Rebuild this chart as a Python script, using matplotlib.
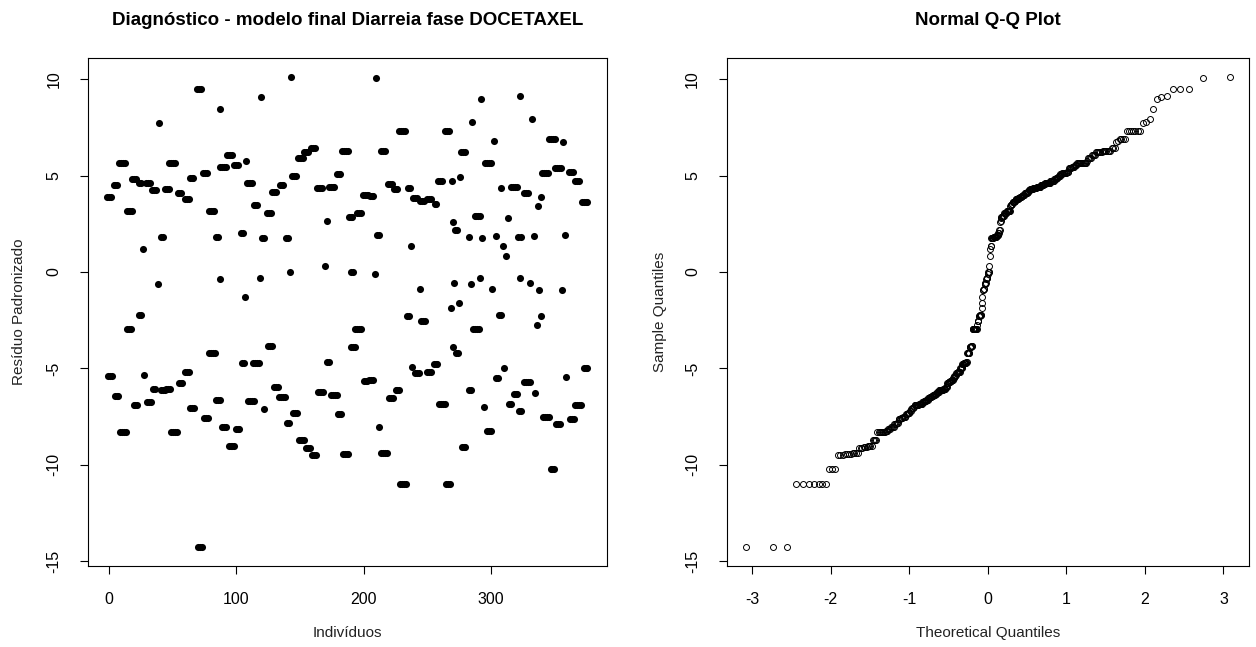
import numpy as np
import matplotlib
matplotlib.use('Agg')
import matplotlib.pyplot as plt
from statistics import NormalDist

plt.rcParams['font.family'] = ['Liberation Sans', 'DejaVu Sans']
plt.rcParams['axes.unicode_minus'] = False

# clusters of repeated residuals: position, value, how many points
cluster_x = [0, 1, 5, 5.8, 10, 10.8, 15.5, 16, 19.4, 20.7, 24.2, 24.6, 26.8, 27.8, 30.7, 31.2,
             35.2, 35.4, 38.3, 39, 41.2, 42.3, 45.4, 46.5, 49.6, 50.9, 55.3, 56.1, 60.9, 61.5,
             64.8, 64.9, 70.6, 71.2, 75.3, 76.4, 80.5, 81, 84.5, 85.6, 87, 87.5, 89.5, 90,
             94.6, 96.2, 99.8, 100.9, 104.6, 105.1, 106.7, 107.2, 110.3, 111.4, 115, 115.6,
             118.5, 119, 120.8, 121.6, 125.5, 126.3, 129.7, 131.3, 135.5, 136, 139.9, 140.6,
             142, 142.8, 145.2, 146, 150.4, 151.2, 154.9, 156.4, 160.1, 161.2, 165.3, 166.1,
             169.6, 171.4, 172.2, 174.8, 176.5, 180.3, 181, 185.3, 185.8, 189.7, 190.5, 191.6,
             195.8, 196.3, 201.5, 201.5, 206.2, 206, 208.9, 209.9, 211.5, 212, 215.4, 216,
             220.4, 221.4, 225.1, 226.6, 230.3, 230.9, 235.1, 236, 237.4, 238.2, 240.3, 242.1,
             244, 246, 246.6, 251.3, 251.3, 256.5, 256.5, 260, 261.3, 265.7, 266.5, 268.6,
             269.7, 270.2, 270.6, 271.3, 272.5, 273.7, 275.1, 275.9, 278.2, 278.5, 282.4,
             283.5, 284.2, 285, 288.1, 289.4, 291.5, 292, 293.3, 294.6, 298, 298.5, 301.1,
             302.4, 303.7, 305, 306.9, 307.6, 309.4, 310.2, 311.5, 313.6, 314.7, 318, 319.4,
             321, 322.6, 323.2, 323.2, 324, 327.6, 328.4, 331, 332.3, 333.6, 334.4, 336, 337,
             338, 339, 339.5, 342.7, 343.2, 347.9, 348.4, 352.6, 353, 356.2, 357, 358.4,
             359.1, 363, 363.5, 367.5, 368.7, 373.6, 374.4]
cluster_res = [3.91, -5.40, 4.50, -6.42, 5.63, -8.30, -2.93, 3.19, 4.81, -6.91, -2.22, 4.60, 1.21,
               -5.32, 4.64, -6.74, 4.26, -6.08, -0.62, 7.72, 1.83, -6.13, 4.30, -6.08, 5.63,
               -8.30, 4.09, -5.75, 3.77, -5.21, 4.86, -7.05, 9.49, -14.27, 5.16, -7.57, 3.19,
               -4.19, 1.83, -6.65, -0.38, 8.45, 5.47, -8.03,
               6.09, -9.04, 5.56, -8.16, 2.01, -4.71, -1.28, 5.75, 4.64, -6.70, 3.50, -4.71,
               -0.29, 9.07, 1.78, -7.12, 3.05, -3.83, 4.17, -5.96, 4.50, -6.48, 1.78, -7.83,
               -0.02, 10.14, 5.00, -7.29, 5.89, -8.73, 6.20, -9.13, 6.42, -9.51, 4.38, -6.22,
               0.33, 2.67, -4.68, 4.42, -6.39, 5.07, -7.34, 6.30, -9.42, 2.84, 0.02, -3.88,
               -2.93, 3.08, 4.02, -5.65, 3.95, -5.58, -0.12, 10.08, 1.94, -8.03, 6.30, -9.39,
               4.55, -6.51, 4.29, -6.13, 7.34, -11.01, -2.29, 4.35, 1.37, -4.95, 3.83, -5.26,
               -0.90, 3.67, -2.53, 3.77, -5.20, 3.53, -4.78, 4.74, -6.86, 7.34, -10.98, -1.89,
               4.74, 2.58, -3.88, -0.55, 2.18, -4.19, -1.63, 4.95, 6.23, -9.10, 1.83,
               -6.13, -0.62, 7.76, -2.94, 2.91, -0.29, 8.97, 1.78, -7.00, 5.63, -8.24, -0.87,
               6.82, 1.88, -5.47, -2.25, 4.35, 1.37, -5.00, 0.85, 2.82, -6.82, 4.42, -6.35,
               1.83, -0.29, 9.14, -7.20, 1.83, 4.09, -5.70, -0.58, 7.93, 1.88, -6.29, -2.75, 3.45,
               -0.94, 3.91, -2.29, 5.16, -7.52, 6.89, -10.23, 5.37, -7.86, -0.94, 6.74, 1.94,
               -5.44, 5.21, -7.63, 4.74, -6.91, 3.65, -5.00]
cluster_n = [3, 3, 3, 3, 4, 4, 3, 4, 3, 3, 2, 2, 1, 1, 3, 3,
             3, 2, 1, 1, 2, 3, 3, 3, 4, 4, 3, 3, 3, 3,
             3, 3, 3, 3, 3, 3, 4, 4, 2, 3, 1, 1, 4, 3,
             4, 4, 3, 3, 2, 2, 1, 1, 4, 4, 3, 4,
             1, 1, 2, 1, 3, 3, 3, 3, 3, 4, 2, 2,
             1, 1, 3, 3, 4, 4, 3, 3, 3, 3, 4, 4,
             1, 1, 2, 4, 4, 3, 3, 4, 4, 3, 2, 3,
             4, 3, 4, 3, 3, 3, 1, 1, 2, 1, 3, 4,
             3, 3, 3, 3, 4, 4, 2, 2, 1, 1, 3, 3,
             1, 3, 3, 3, 3, 2, 3, 3, 4, 3, 3, 1,
             1, 1, 1, 1, 2, 2, 1, 1, 3, 3, 1,
             2, 1, 1, 4, 4, 1, 1, 1, 1, 4, 3, 1,
             1, 1, 2, 2, 1, 1, 1, 1, 1, 2, 4, 3,
             1, 1, 1, 2, 1, 3, 4, 1, 1, 1, 1, 1, 1,
             1, 1, 1, 4, 4, 4, 3, 4, 3, 1, 1, 1,
             1, 3, 3, 3, 4, 4, 3]

xs = np.concatenate([c + 1.5 * (np.arange(k) - (k - 1) / 2) for c, k in zip(cluster_x, cluster_n)])
ys = np.repeat(cluster_res, cluster_n)

# normal Q-Q, R style ppoints
n = len(ys)
sample_q = np.sort(ys)
theo_q = np.array([NormalDist().inv_cdf((i + 0.5) / n) for i in range(n)])


def rlim(v):
    lo, hi = np.min(v), np.max(v)
    d = 0.04 * (hi - lo)
    return lo - d, hi + d


def r_axes(ax):
    for s in ax.spines.values():
        s.set_linewidth(0.8)
        s.set_color('black')
    ax.tick_params(direction='out', length=6, width=0.8, labelsize=11.5, pad=13, colors='black')
    for lab in ax.get_yticklabels():
        lab.set_rotation(90)
        lab.set_va('center')


fig = plt.figure(figsize=(12.56, 6.47), dpi=100)
W, H = 1256, 647

ax1 = fig.add_axes([88 / W, (H - 566) / H, 518.7 / W, 508.3 / H])
ax1.scatter(xs, ys, s=26, color='black', linewidths=0)
ax1.set_xlim(rlim(xs))
ax1.set_ylim(rlim(ys))
ax1.set_xticks([0, 100, 200, 300])
ax1.set_yticks([10, 5, 0, -5, -10, -15])
ax1.set_title('Diagnóstico - modelo final Diarreia fase DOCETAXEL', fontsize=13.5,
              fontweight='bold', y=1.074, va='center', pad=0)
ax1.set_xlabel('Indivíduos', fontsize=11, color='#222222')
ax1.set_ylabel('Resíduo Padronizado', fontsize=11, color='#222222')
r_axes(ax1)

ax2 = fig.add_axes([726.6 / W, (H - 566) / H, 522.4 / W, 508.3 / H])
ax2.plot(theo_q, sample_q, 'o', mfc='none', mec='black', ms=4.3, mew=0.7)
ax2.set_xlim(rlim(theo_q))
ax2.set_ylim(rlim(sample_q))
ax2.set_xticks([-3, -2, -1, 0, 1, 2, 3])
ax2.set_yticks([10, 5, 0, -5, -10, -15])
ax2.set_title('Normal Q-Q Plot', fontsize=13.5, fontweight='bold', y=1.074, va='center', pad=0)
ax2.set_xlabel('Theoretical Quantiles', fontsize=11, color='#222222')
ax2.set_ylabel('Sample Quantiles', fontsize=11, color='#222222')
r_axes(ax2)

for ax, lx in ((ax1, -69 / 518.7), (ax2, -67 / 522.4)):
    ax.xaxis.label.set_va('center')
    ax.yaxis.label.set_va('center')
    ax.xaxis.set_label_coords(0.5, -67 / 508.3)
    ax.yaxis.set_label_coords(lx, 0.5)

fig.savefig('out.png', dpi=100)
